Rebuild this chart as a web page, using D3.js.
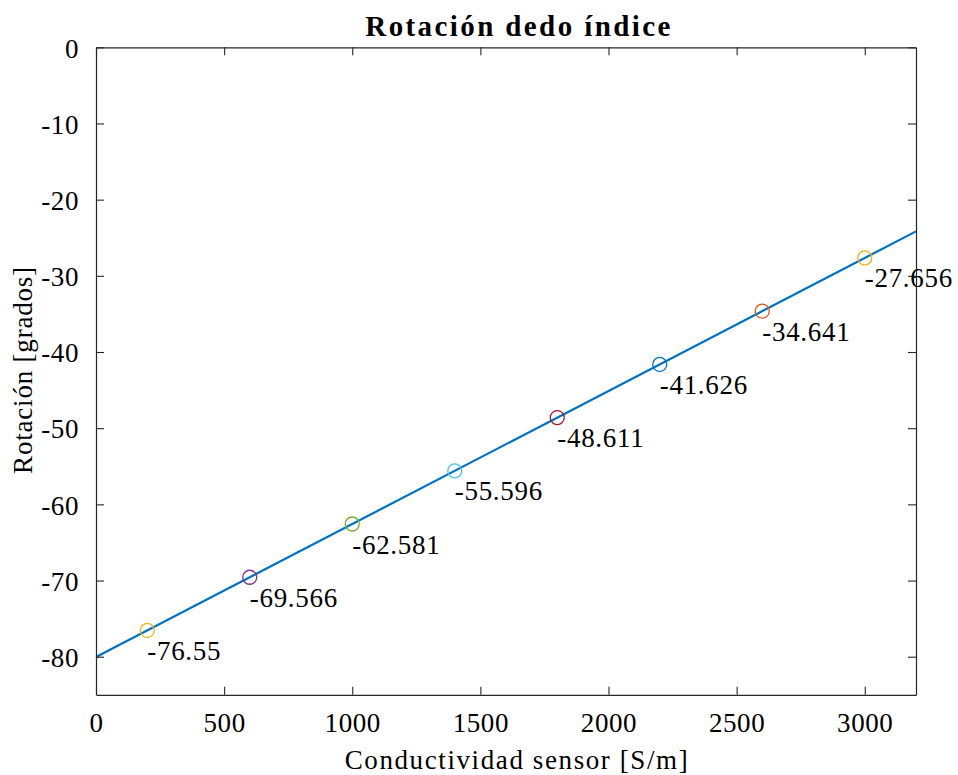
<!DOCTYPE html>
<html>
<head>
<meta charset="utf-8">
<script src="https://cdn.jsdelivr.net/npm/d3@7"></script>
<style>
html,body{margin:0;padding:0;background:#fff;}
svg{display:block;}
text{font-family:"Liberation Serif","Times New Roman",serif;fill:#000;}
</style>
</head>
<body>
<svg id="chart" width="958" height="775"></svg>
<script>
// ---- data ----
const conductivity = [200, 600, 1000, 1400, 1800, 2200, 2600, 3000];
const rotation = [-76.55, -69.566, -62.581, -55.596, -48.611, -41.626, -34.641, -27.656];
const labels = ["-76.55", "-69.566", "-62.581", "-55.596", "-48.611", "-41.626", "-34.641", "-27.656"];
const markerColors = ["#EDB120", "#7E2F8E", "#77AC30", "#4DBEEE", "#A2142F", "#0072BD", "#D95319", "#EDB120"];
const fitX = [0, 3200];
const fitY = [-80.042, -24.163];
const xTicks = [0, 500, 1000, 1500, 2000, 2500, 3000];
const yTicks = [0, -10, -20, -30, -40, -50, -60, -70, -80];
const title = "Rotación dedo índice";
const xLabel = "Conductividad sensor [S/m]";
const yLabel = "Rotación [grados]";

// ---- layout ----
const svg = d3.select("#chart");
const mLeft = 96, mRight = 916, mTop = 47.3, mBottom = 694.8;
const x = d3.scaleLinear().domain([0, 3200]).range([mLeft, mRight]);
const y = d3.scaleLinear().domain([-85, 0]).range([mBottom, mTop]);
const axisColor = "#262626";
const fs = 27;

// fit line
svg.append("path")
  .datum(fitX.map((d, i) => [d, fitY[i]]))
  .attr("d", d3.line().x(d => x(d[0])).y(d => y(d[1])))
  .attr("fill", "none").attr("stroke", "#0072BD").attr("stroke-width", 2.2);

// markers
svg.selectAll("circle.pt").data(conductivity).enter().append("circle")
  .attr("class", "pt")
  .attr("cx", d => x(d)).attr("cy", (d, i) => y(rotation[i]))
  .attr("r", 7).attr("fill", "none")
  .attr("stroke", (d, i) => markerColors[i]).attr("stroke-width", 1.3);

// axes
const tickLen = 8;
const gx = svg.append("g").attr("transform", `translate(0,${mBottom})`)
  .call(d3.axisBottom(x).tickValues(xTicks).tickSizeInner(-tickLen).tickSizeOuter(0).tickPadding(18).tickFormat(d3.format("d")));
const gxTop = svg.append("g").attr("transform", `translate(0,${mTop})`)
  .call(d3.axisTop(x).tickValues(xTicks).tickSizeInner(-tickLen).tickSizeOuter(0).tickFormat(""));
const gy = svg.append("g").attr("transform", `translate(${mLeft},0)`)
  .call(d3.axisLeft(y).tickValues(yTicks).tickSizeInner(-tickLen).tickSizeOuter(0).tickPadding(17).tickFormat(d => d3.format("d")(d).replace("−", "-")));
const gyR = svg.append("g").attr("transform", `translate(${mRight},0)`)
  .call(d3.axisRight(y).tickValues(yTicks).tickSizeInner(-tickLen).tickSizeOuter(0).tickFormat(""));

[gx, gxTop, gy, gyR].forEach(g => {
  g.attr("font-family", null);
  g.select(".domain").attr("stroke", axisColor).attr("stroke-width", 1.2);
  g.selectAll(".tick line").attr("stroke", axisColor).attr("stroke-width", 1.1);
  g.selectAll(".tick text").attr("font-size", fs).attr("fill", "#000")
   .attr("letter-spacing", 0.6);
});
gx.selectAll(".tick text").attr("dy", "0.71em");
gy.selectAll(".tick text").attr("dy", "0.36em");

// data labels
svg.selectAll("text.lbl").data(conductivity).enter().append("text")
  .attr("class", "lbl")
  .attr("x", d => x(d)).attr("y", (d, i) => y(rotation[i]))
  .attr("dy", 29.5)
  .attr("font-size", fs)
  .attr("letter-spacing", 0.7)
  .text((d, i) => labels[i]);

// title & labels
svg.append("text").attr("x", 519).attr("y", 36).attr("text-anchor", "middle")
  .attr("font-size", 29).attr("font-weight", "bold").attr("letter-spacing", 2.4).text(title);
svg.append("text").attr("x", 517).attr("y", 769).attr("text-anchor", "middle")
  .attr("font-size", fs).attr("letter-spacing", 1.6).text(xLabel);
svg.append("text").attr("transform", "translate(32,370) rotate(-90)").attr("text-anchor", "middle")
  .attr("font-size", fs).attr("letter-spacing", 0.8).text(yLabel);
</script>
</body>
</html>
